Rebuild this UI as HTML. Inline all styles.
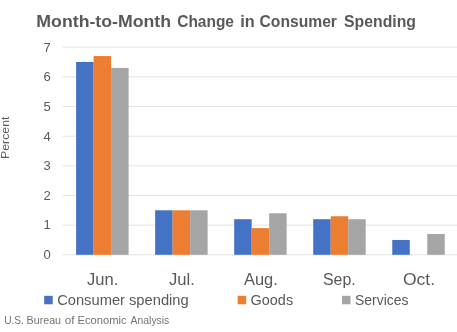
<!DOCTYPE html>
<html><head><meta charset="utf-8"><style>
html,body{margin:0;padding:0;background:#fff;width:457px;height:332px;overflow:hidden}
svg{position:absolute;left:0;top:0;will-change:transform}
text{font-family:"Liberation Sans",sans-serif;fill:#595959}
.title{font-weight:bold}
.yl{font-size:13px}
.src{fill:#747474}
</style></head><body>
<svg width="457" height="332" viewBox="0 0 457 332">
<rect x="62.5" y="254.30" width="395" height="1" fill="#E3E3E3"/>
<rect x="62.5" y="224.64" width="395" height="1" fill="#E3E3E3"/>
<rect x="62.5" y="194.98" width="395" height="1" fill="#E3E3E3"/>
<rect x="62.5" y="165.32" width="395" height="1" fill="#E3E3E3"/>
<rect x="62.5" y="135.66" width="395" height="1" fill="#E3E3E3"/>
<rect x="62.5" y="106.00" width="395" height="1" fill="#E3E3E3"/>
<rect x="62.5" y="76.34" width="395" height="1" fill="#E3E3E3"/>
<rect x="62.5" y="46.68" width="395" height="1" fill="#E3E3E3"/>
<rect x="76.10" y="62.01" width="17.5" height="192.79" fill="#4472C4"/>
<rect x="93.60" y="56.08" width="17.5" height="198.72" fill="#ED7D31"/>
<rect x="111.10" y="67.94" width="17.5" height="186.86" fill="#A5A5A5"/>
<rect x="155.14" y="210.31" width="17.5" height="44.49" fill="#4472C4"/>
<rect x="172.64" y="210.31" width="17.5" height="44.49" fill="#ED7D31"/>
<rect x="190.14" y="210.31" width="17.5" height="44.49" fill="#A5A5A5"/>
<rect x="234.18" y="219.21" width="17.5" height="35.59" fill="#4472C4"/>
<rect x="251.68" y="228.11" width="17.5" height="26.69" fill="#ED7D31"/>
<rect x="269.18" y="213.28" width="17.5" height="41.52" fill="#A5A5A5"/>
<rect x="313.22" y="219.21" width="17.5" height="35.59" fill="#4472C4"/>
<rect x="330.72" y="216.24" width="17.5" height="38.56" fill="#ED7D31"/>
<rect x="348.22" y="219.21" width="17.5" height="35.59" fill="#A5A5A5"/>
<rect x="392.26" y="239.97" width="17.5" height="14.83" fill="#4472C4"/>
<rect x="427.26" y="234.04" width="17.5" height="20.76" fill="#A5A5A5"/>
<text class="yl" x="50.8" y="258.90" text-anchor="end">0</text>
<text class="yl" x="50.8" y="229.33" text-anchor="end">1</text>
<text class="yl" x="50.8" y="199.76" text-anchor="end">2</text>
<text class="yl" x="50.8" y="170.19" text-anchor="end">3</text>
<text class="yl" x="50.8" y="140.62" text-anchor="end">4</text>
<text class="yl" x="50.8" y="111.04" text-anchor="end">5</text>
<text class="yl" x="50.8" y="81.47" text-anchor="end">6</text>
<text class="yl" x="50.8" y="51.90" text-anchor="end">7</text>
<text class="title" transform="translate(36.35 27.20) scale(1.0867 1)" style="font-size:16.3px">Month-to-Month</text>
<text class="title" transform="translate(177.28 27.20) scale(0.9484 1)" style="font-size:16.3px">Change</text>
<text class="title" transform="translate(240.16 27.20) scale(1.0010 1)" style="font-size:16.3px">in</text>
<text class="title" transform="translate(259.57 27.20) scale(0.9610 1)" style="font-size:16.3px">Consumer</text>
<text class="title" transform="translate(344.03 27.20) scale(0.9698 1)" style="font-size:16.3px">Spending</text>
<text class="xl" transform="translate(86.95 285.10) scale(0.9749 1)" style="font-size:17px">Jun.</text>
<text class="xl" transform="translate(168.95 285.10) scale(0.9777 1)" style="font-size:17px">Jul.</text>
<text class="xl" transform="translate(243.90 285.10) scale(0.9699 1)" style="font-size:17px">Aug.</text>
<text class="xl" transform="translate(322.98 285.10) scale(0.9375 1)" style="font-size:17px">Sep.</text>
<text class="xl" transform="translate(402.91 285.10) scale(1.0307 1)" style="font-size:17px">Oct.</text>
<rect x="44.20" y="295.8" width="8.5" height="8.5" fill="#4472C4"/>
<text class="lg" transform="translate(57.16 304.50) scale(1.0140 1)" style="font-size:14.5px">Consumer spending</text>
<rect x="237.70" y="295.8" width="8.5" height="8.5" fill="#ED7D31"/>
<text class="lg" transform="translate(250.58 304.50) scale(0.9959 1)" style="font-size:14.5px">Goods</text>
<rect x="342.00" y="295.8" width="8.5" height="8.5" fill="#A5A5A5"/>
<text class="lg" transform="translate(355.07 304.50) scale(0.9606 1)" style="font-size:14.5px">Services</text>
<text class="src" transform="translate(4.14 323.80) scale(0.8867 1)" style="font-size:11.5px">U.S.</text>
<text class="src" transform="translate(26.54 323.80) scale(0.9317 1)" style="font-size:11.5px">Bureau</text>
<text class="src" transform="translate(64.83 323.80) scale(1.0172 1)" style="font-size:11.5px">of</text>
<text class="src" transform="translate(77.51 323.80) scale(0.9720 1)" style="font-size:11.5px">Economic</text>
<text class="src" transform="translate(130.60 323.80) scale(0.9049 1)" style="font-size:11.5px">Analysis</text>
<g transform="rotate(-90)"><text class="pc" transform="translate(-158.99 9.1) scale(1.0622 1)" style="font-size:11.6px">Percent</text></g>
</svg>
</body></html>
